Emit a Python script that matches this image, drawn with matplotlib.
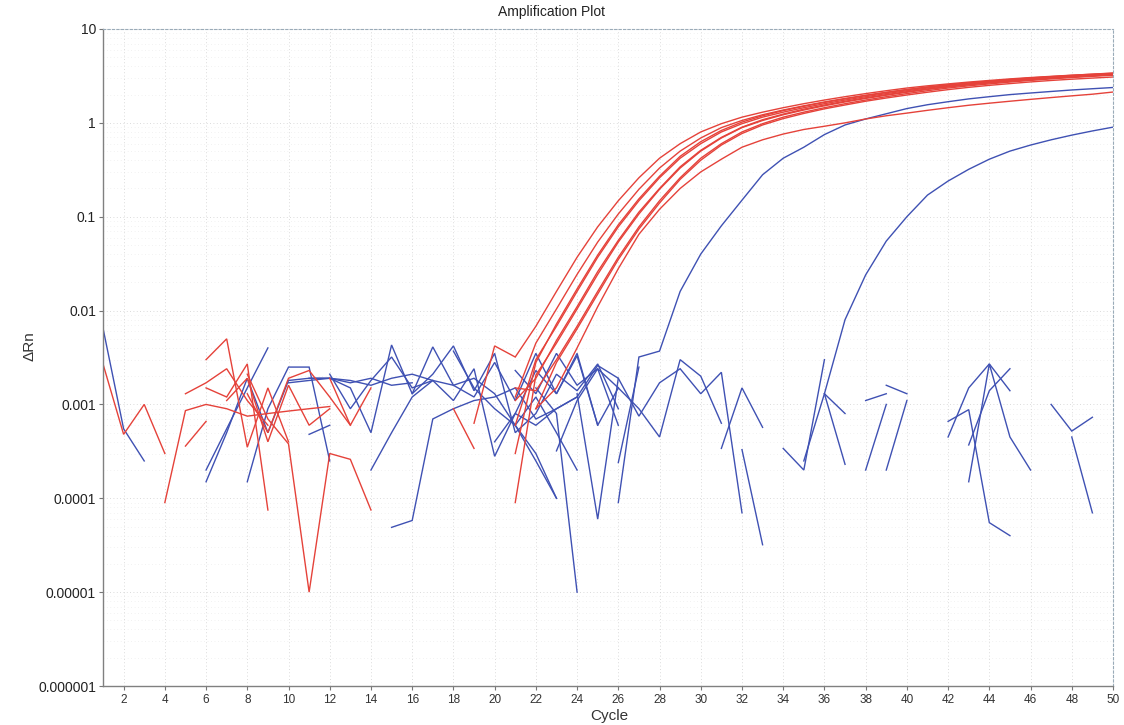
import numpy as np
import matplotlib.pyplot as plt
from matplotlib.ticker import FixedLocator, NullFormatter

plt.rcParams['font.family'] = ['Liberation Sans', 'DejaVu Sans']

# Each trace is (first cycle, dRn values for consecutive cycles).
# Gaps in the real plot are negative dRn values that a log axis can't show.

# red amplification curves
red_amp = [
    (19, [0.00063, 0.0042, 0.0032, 0.0068, 0.016, 0.037, 0.078, 0.148, 0.26, 0.42, 0.6, 0.8,
          0.98, 1.15, 1.3, 1.45, 1.6, 1.75, 1.9, 2.05, 2.2, 2.35, 2.48, 2.6, 2.72, 2.83,
          2.94, 3.04, 3.13, 3.22, 3.3, 3.37]),
    (21, [0.0012, 0.0045, 0.0104, 0.0243, 0.0537, 0.107, 0.196, 0.33, 0.5, 0.69, 0.89, 1.06,
          1.22, 1.37, 1.52, 1.67, 1.82, 1.97, 2.12, 2.27, 2.41, 2.54, 2.66, 2.77, 2.88, 2.99,
          3.08, 3.17, 3.26, 3.33]),
    (21, [0.0006, 0.003, 0.0068, 0.016, 0.037, 0.078, 0.148, 0.26, 0.42, 0.6, 0.8, 0.98,
          1.15, 1.3, 1.45, 1.6, 1.75, 1.9, 2.05, 2.2, 2.35, 2.48, 2.6, 2.72, 2.83, 2.94,
          3.04, 3.13, 3.22, 3.3]),
    (21, [0.0003, 0.0028, 0.0072, 0.017, 0.039, 0.082, 0.155, 0.27, 0.44, 0.63, 0.83, 1.02,
          1.19, 1.35, 1.5, 1.65, 1.8, 1.95, 2.1, 2.25, 2.4, 2.53, 2.66, 2.78, 2.9, 3.01,
          3.11, 3.21, 3.3, 3.4]),
    (21, [0.00009, 0.00205, 0.0045, 0.0104, 0.0243, 0.0537, 0.107, 0.196, 0.33, 0.5, 0.69,
          0.89, 1.06, 1.22, 1.37, 1.52, 1.67, 1.82, 1.97, 2.12, 2.27, 2.41, 2.54, 2.66,
          2.77, 2.88, 2.99, 3.08, 3.17, 3.26]),
    (21, [0.0011, 0.0019, 0.0048, 0.011, 0.026, 0.056, 0.112, 0.2, 0.34, 0.51, 0.7, 0.9,
          1.08, 1.24, 1.4, 1.55, 1.7, 1.85, 2.0, 2.15, 2.3, 2.44, 2.57, 2.69, 2.8, 2.91,
          3.01, 3.1, 3.19, 3.27]),
    (21, [0.0015, 0.0014, 0.003, 0.0068, 0.016, 0.037, 0.078, 0.148, 0.26, 0.42, 0.6, 0.8,
          0.98, 1.15, 1.3, 1.45, 1.6, 1.75, 1.9, 2.05, 2.2, 2.35, 2.48, 2.6, 2.72, 2.83,
          2.94, 3.04, 3.13, 3.22]),
    (22, [0.0009, 0.0028, 0.0064, 0.015, 0.035, 0.074, 0.14, 0.25, 0.4, 0.58, 0.77, 0.95,
          1.11, 1.26, 1.41, 1.55, 1.7, 1.84, 1.98, 2.12, 2.26, 2.39, 2.51, 2.62, 2.73,
          2.83, 2.92, 3.0, 3.08]),
    (22, [0.0009, 0.0015, 0.004, 0.011, 0.028, 0.065, 0.12, 0.2, 0.3, 0.41, 0.55, 0.66,
          0.76, 0.85, 0.92, 1.0, 1.1, 1.19, 1.27, 1.36, 1.45, 1.54, 1.62, 1.7, 1.78, 1.86,
          1.94, 2.02, 2.13]),
]

# red baseline noise
red_noise = [
    (1, [0.0027, 0.00048, 0.001, 0.0003]),
    (4, [0.00009, 0.00086, 0.001, 0.0009, 0.00075, 0.0008, 0.00085, 0.0009, 0.00095]),
    (5, [0.00036, 0.00066]),
    (5, [0.0013, 0.0017, 0.0024, 0.0011, 0.0006]),
    (6, [0.003, 0.005, 0.00035, 0.0015, 0.0004]),
    (6, [0.0015, 0.0012, 0.0027, 0.000075]),
    (7, [0.0011, 0.0019, 0.0004, 0.0016, 0.0006, 0.0009]),
    (8, [0.0013, 0.0005, 0.0019, 0.0023, 0.0012, 0.0006]),
    (8, [0.0021, 0.0007, 0.00038, 0.00001, 0.0003, 0.00026, 0.000075]),
    (12, [0.0019, 0.0006, 0.0015]),
    (18, [0.0009, 0.00034]),
]

# blue amplification curves
blue_amp = [
    (26, [0.00009, 0.0032, 0.0037, 0.016, 0.04, 0.08, 0.15, 0.28, 0.42, 0.55, 0.75, 0.95,
          1.1, 1.25, 1.42, 1.56, 1.68, 1.8, 1.9, 2.0, 2.08, 2.16, 2.24, 2.31, 2.38]),
    (35, [0.00025, 0.0013, 0.008, 0.024, 0.055, 0.1, 0.17, 0.24, 0.32, 0.41, 0.5, 0.58,
          0.66, 0.74, 0.82, 0.9]),
]

# blue baseline noise
blue_noise = [
    (1, [0.0065, 0.00055, 0.00025]),
    (6, [0.0002, 0.00055, 0.0015, 0.004]),
    (6, [0.00015, 0.0005, 0.0019, 0.0005, 0.0018, 0.0019, 0.0019, 0.0017, 0.0019, 0.0016, 0.0017]),
    (8, [0.00015, 0.0009, 0.0025, 0.0025, 0.00025]),
    (10, [0.0017, 0.0018, 0.0019, 0.0018, 0.0016, 0.0019, 0.0021, 0.0018]),
    (11, [0.00048, 0.0006]),
    (11, [0.0019, 0.0019, 0.0015, 0.0005, 0.0043, 0.0013, 0.0021, 0.0042, 0.0014, 0.0035,
          0.0005, 0.0008, 0.0021, 0.0014, 0.0027, 0.0009]),
    (12, [0.0021, 0.0009, 0.0018, 0.0032, 0.0015, 0.0018, 0.0011, 0.0024, 0.00028, 0.0008,
          0.0023, 0.0013, 0.0033, 0.0006]),
    (14, [0.0002, 0.0005, 0.0012, 0.0018, 0.0016, 0.0019, 0.0013, 0.0006, 0.0003, 0.0001]),
    (15, [0.000049, 0.000058, 0.0007, 0.0009, 0.0011, 0.0012, 0.0015, 0.0007, 0.0009, 0.0012]),
    (16, [0.0013, 0.0041, 0.0016, 0.0012, 0.0028, 0.0011, 0.0035, 0.0013, 0.0035, 0.0006, 0.0015]),
    (18, [0.0037, 0.0015, 0.0009, 0.0006, 0.0012, 0.0005, 0.0002]),
    (20, [0.0004, 0.0008, 0.0006, 0.0009, 0.0012, 0.0026, 0.0019, 0.00075, 0.0017, 0.0024,
          0.0013, 0.0022, 0.00007]),
    (21, [0.0023, 0.0013, 0.0035, 0.0016, 0.0024, 0.0015, 0.0009, 0.00045, 0.003, 0.002, 0.00063]),
    (22, [0.0015, 0.0008, 0.00001]),
    (21, [0.0006, 0.00025, 0.0001]),
    (23, [0.00032, 0.0011, 0.0024, 0.0006]),
    (24, [0.0013, 0.00006, 0.0019]),
    (26, [0.00024, 0.0025]),
    (31, [0.00034, 0.0015, 0.00057]),
    (32, [0.00033, 0.000032]),
    (34, [0.00034, 0.0002, 0.003]),
    (36, [0.0013, 0.0008]),
    (36, [0.0013, 0.00023]),
    (38, [0.0011, 0.0013]),
    (38, [0.0002, 0.001]),
    (39, [0.0002, 0.0011]),
    (39, [0.0016, 0.0013]),
    (42, [0.00045, 0.0015, 0.0027, 0.0014]),
    (42, [0.00066, 0.00088, 0.000055, 0.00004]),
    (43, [0.00015, 0.0027, 0.00045, 0.0002]),
    (43, [0.00037, 0.0014, 0.0024]),
    (47, [0.001, 0.00052, 0.00073]),
    (48, [0.00045, 0.00007]),
]

x_ticks = list(range(2, 51, 2))
y_ticks = [1e-6, 1e-5, 1e-4, 1e-3, 1e-2, 1e-1, 1, 10]
y_labels = ['0.000001', '0.00001', '0.0001', '0.001', '0.01', '0.1', '1', '10']

red = '#e5423a'
blue = '#3f51b3'

fig = plt.figure(figsize=(11.24, 7.25), dpi=100)
ax = fig.add_axes([103 / 1124, 1 - 686 / 725, 1010 / 1124, 657 / 725])

def draw(traces, color):
    for start, vals in traces:
        cyc = np.arange(start, start + len(vals))
        ax.plot(cyc, vals, color=color, lw=1.0, solid_joinstyle='miter')

draw(blue_noise, blue)
draw(red_noise, red)
draw(blue_amp, blue)
draw(red_amp, red)

ax.set_yscale('log')
ax.set_xlim(1, 50)
ax.set_ylim(1e-6, 10)
ax.set_xticks(x_ticks)
ax.set_xticklabels([str(t) for t in x_ticks], fontsize=8.5, color='#333333')
ax.set_yticks(y_ticks)
ax.set_yticklabels(y_labels, fontsize=10, color='#222222')
minor = [m * 10.0 ** e for e in range(-6, 1) for m in range(2, 10)]
ax.yaxis.set_minor_locator(FixedLocator(minor))
ax.yaxis.set_minor_formatter(NullFormatter())
ax.tick_params(axis='both', which='major', length=3, width=0.8, color='#777777')
ax.tick_params(axis='y', which='minor', length=0)
ax.tick_params(axis='x', pad=3)
ax.tick_params(axis='y', pad=2)

# faint dotted grid like the instrument software
ax.grid(which='major', ls=(0, (1, 3)), color='#cfcfcf', lw=0.6)
ax.grid(which='minor', axis='y', ls=(0, (1, 4)), color='#e6e6e6', lw=0.5)
ax.set_axisbelow(True)

for side in ['left', 'bottom']:
    ax.spines[side].set_color('#808080')
    ax.spines[side].set_linewidth(1.0)
for side in ['top', 'right']:
    ax.spines[side].set_color('#9aabb8')
    ax.spines[side].set_linestyle((0, (2, 2)))
    ax.spines[side].set_linewidth(0.8)

fig.text(551 / 1124, 1 - 12 / 725, 'Amplification Plot', ha='center', va='center',
         fontsize=10, color='#222222')
fig.text(30 / 1124, 1 - 346 / 725, 'ΔRn', ha='center', va='center', rotation=90,
         fontsize=11, color='#333333')
fig.text(609 / 1124, 1 - 716 / 725, 'Cycle', ha='center', va='center',
         fontsize=11, color='#333333')

fig.savefig('out.png', dpi=100, facecolor='white')
